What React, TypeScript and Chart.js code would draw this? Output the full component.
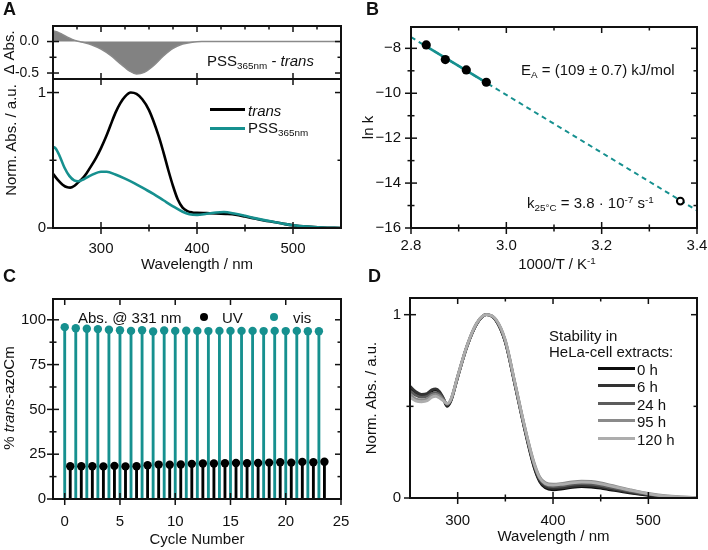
import React, { useEffect, useRef } from 'react';
import { Chart, registerables } from 'chart.js';

Chart.register(...registerables);

const FONT = "'Liberation Sans', Arial, Helvetica, sans-serif";
const TEAL = '#16908f';
const INK = '#111';

// ---------------- Panel A (UV/Vis spectra) ----------------
const A_TRANS_WL = [250, 255, 260, 265, 268, 272, 276, 280, 285, 290, 295, 300, 305, 310, 315, 320, 325, 331, 337, 343, 350, 360, 365, 370, 375, 380, 385, 390, 395, 400, 410, 420, 430, 440, 450, 460, 470, 480, 490, 500, 515, 530, 550];
const A_TRANS = [0.40, 0.355, 0.32, 0.30, 0.298, 0.31, 0.335, 0.36, 0.405, 0.46, 0.52, 0.59, 0.67, 0.76, 0.85, 0.92, 0.97, 1.0, 0.99, 0.95, 0.87, 0.68, 0.56, 0.43, 0.31, 0.21, 0.15, 0.125, 0.115, 0.112, 0.11, 0.108, 0.104, 0.098, 0.085, 0.07, 0.056, 0.044, 0.031, 0.02, 0.01, 0.004, 0.0];
const A_PSS_WL = [250, 253, 257, 262, 267, 272, 276, 282, 290, 300, 306, 315, 325, 335, 345, 355, 365, 375, 385, 392, 400, 410, 420, 428, 440, 450, 460, 470, 480, 490, 500, 515, 530, 550];
const A_PSS = [0.60, 0.585, 0.53, 0.445, 0.385, 0.352, 0.345, 0.36, 0.39, 0.415, 0.415, 0.395, 0.365, 0.33, 0.29, 0.25, 0.205, 0.16, 0.12, 0.102, 0.097, 0.105, 0.115, 0.118, 0.105, 0.09, 0.073, 0.058, 0.045, 0.032, 0.02, 0.01, 0.004, 0.0];
const A_DIFF_WL = [250, 255, 260, 265, 270, 276, 282, 290, 300, 310, 320, 330, 337, 345, 355, 365, 375, 385, 395, 405, 450, 550];
const A_DIFF = [0.17, 0.15, 0.11, 0.07, 0.035, 0.005, -0.015, -0.05, -0.12, -0.22, -0.35, -0.47, -0.515, -0.49, -0.38, -0.23, -0.11, -0.04, -0.01, 0, 0, 0];

const WL_LABELS = [300, 400, 500];
const WL_MINOR = [350, 450];
const A_TOP_WL_MINOR = [275, 325, 350, 375, 425, 450, 475, 525];
const A_TOP_Y_LABELS = [-0.5, 0];
const A_TOP_Y_MINOR = [-0.25];
const NORM_LABELS = [0, 1];
const NORM_MINOR = [0.5];

// ---------------- Panel B (Arrhenius) ----------------
const B_INV_T = [2.832, 2.872, 2.916, 2.958];
const B_LNK = [-7.85, -8.5, -8.96, -9.51];
const B_EXTRAP_INV_T = [3.365];
const B_EXTRAP_LNK = [-14.8];
const B_FIT_INV_T = [2.8, 3.4];
const B_FIT_LNK = [-7.5, -15.22];
const B_FIT_SOLID_INV_T = [2.832, 2.958];
const B_FIT_SOLID_LNK = [-7.91, -9.53];
const B_X_LABELS = [2.8, 3.0, 3.2, 3.4];
const B_X_MINOR = [2.9, 3.1, 3.3];
const B_Y_LABELS = [-16, -14, -12, -10, -8];
const B_Y_MINOR = [-15, -13, -11, -9];

// ---------------- Panel C (switching cycles) ----------------
const C_VIS_CYCLE = [0, 1, 2, 3, 4, 5, 6, 7, 8, 9, 10, 11, 12, 13, 14, 15, 16, 17, 18, 19, 20, 21, 22, 23];
const C_VIS = [95.9, 95.3, 95.0, 94.8, 94.4, 94.2, 93.8, 94.2, 93.5, 94.0, 93.8, 93.9, 93.8, 93.7, 93.8, 93.8, 93.8, 93.8, 93.7, 93.8, 93.7, 93.8, 93.6, 93.6];
const C_UV_CYCLE = [0.5, 1.5, 2.5, 3.5, 4.5, 5.5, 6.5, 7.5, 8.5, 9.5, 10.5, 11.5, 12.5, 13.5, 14.5, 15.5, 16.5, 17.5, 18.5, 19.5, 20.5, 21.5, 22.5, 23.5];
const C_UV = [18.3, 18.3, 18.3, 18.2, 18.5, 18.2, 18.3, 18.8, 19.2, 19.1, 19.3, 19.6, 19.8, 19.8, 20.0, 20.1, 20.0, 20.1, 20.3, 20.5, 20.3, 20.7, 20.5, 20.8];
const C_X_LABELS = [0, 5, 10, 15, 20, 25];
const C_Y_LABELS = [0, 25, 50, 75, 100];
const C_Y_MINOR = [12.5, 37.5, 62.5, 87.5];

// ---------------- Panel D (stability) ----------------
const D_WL = [250, 256, 262, 268, 273, 277, 281, 285, 289, 293, 300, 310, 320, 330, 340, 350, 360, 370, 380, 386, 392, 400, 410, 420, 430, 440, 450, 460, 480, 500, 520, 550];
const D_0H = [0.60, 0.575, 0.56, 0.565, 0.585, 0.59, 0.575, 0.54, 0.50, 0.53, 0.66, 0.83, 0.95, 1.0, 0.97, 0.85, 0.62, 0.38, 0.17, 0.09, 0.055, 0.045, 0.05, 0.058, 0.062, 0.06, 0.054, 0.045, 0.028, 0.015, 0.006, 0];
const D_6H = [0.61, 0.58, 0.565, 0.57, 0.59, 0.595, 0.58, 0.545, 0.505, 0.535, 0.66, 0.83, 0.95, 1.0, 0.97, 0.85, 0.62, 0.385, 0.175, 0.095, 0.062, 0.052, 0.056, 0.064, 0.068, 0.066, 0.06, 0.05, 0.032, 0.017, 0.007, 0];
const D_24H = [0.585, 0.56, 0.55, 0.555, 0.57, 0.575, 0.565, 0.54, 0.51, 0.535, 0.66, 0.83, 0.95, 1.0, 0.97, 0.855, 0.625, 0.39, 0.185, 0.105, 0.072, 0.062, 0.066, 0.074, 0.078, 0.076, 0.069, 0.058, 0.038, 0.02, 0.008, 0.001];
const D_95H = [0.565, 0.54, 0.535, 0.54, 0.56, 0.565, 0.555, 0.535, 0.515, 0.54, 0.665, 0.835, 0.955, 1.0, 0.975, 0.86, 0.63, 0.395, 0.195, 0.115, 0.083, 0.075, 0.08, 0.088, 0.092, 0.09, 0.082, 0.07, 0.046, 0.025, 0.011, 0.002];
const D_120H = [0.55, 0.53, 0.525, 0.53, 0.55, 0.555, 0.545, 0.53, 0.515, 0.54, 0.665, 0.835, 0.955, 1.0, 0.975, 0.86, 0.63, 0.395, 0.19, 0.11, 0.078, 0.07, 0.075, 0.083, 0.087, 0.085, 0.077, 0.066, 0.043, 0.023, 0.01, 0.002];
const D_LABELS = ['0 h', '6 h', '24 h', '95 h', '120 h'];
const D_SERIES = [D_0H, D_6H, D_24H, D_95H, D_120H];
const D_COLORS = ['#0d0d0d', '#333333', '#5c5c5c', '#8a8a8a', '#adadad'];

// ---------------- helpers ----------------
type Rect = { l: number; t: number; w: number; h: number };
type Plot = { l: number; t: number; r: number; b: number };

const pts = (xs: number[], ys: number[]) => xs.map((x, i) => ({ x, y: ys[i] }));

const frameTicks = {
  id: 'frameTicks',
  afterDatasetsDraw(chart: any, _a: any, opts: any) {
    const { ctx, chartArea: a, scales } = chart;
    const xs = scales.x;
    const ys = scales.y;
    ctx.save();
    ctx.strokeStyle = INK;
    const line = (x1: number, y1: number, x2: number, y2: number) => {
      ctx.lineWidth = 1.5;
      ctx.beginPath();
      ctx.moveTo(x1, y1);
      ctx.lineTo(x2, y2);
      ctx.stroke();
    };
    for (const side of ['bottom', 'top', 'left', 'right']) {
      const spec = opts[side];
      if (!spec) continue;
      const items: [number, number][] = [
        ...(spec.major || []).map((v: number) => [v, 6] as [number, number]),
        ...(spec.minor || []).map((v: number) => [v, 3.5] as [number, number]),
      ];
      const horiz = side === 'bottom' || side === 'top';
      const inward = side === 'bottom' || side === 'right' ? -1 : 1;
      const base = side === 'bottom' ? a.bottom : side === 'top' ? a.top : side === 'left' ? a.left : a.right;
      for (const [v, L] of items) {
        const out = spec.cross ? L : 0;
        if (horiz) {
          const px = xs.getPixelForValue(v);
          line(px, base - inward * out, px, base + inward * L);
        } else {
          const py = ys.getPixelForValue(v);
          line(base - inward * out, py, base + inward * L, py);
        }
      }
    }
    ctx.lineWidth = 2;
    ctx.strokeRect(a.left, a.top, a.right - a.left, a.bottom - a.top);
    ctx.restore();
  },
};

function layoutFor(c: Rect, p: Plot) {
  return {
    padding: { left: 0, top: p.t - c.t, right: c.l + c.w - p.r, bottom: 0 },
    yW: p.l - c.l,
    xH: c.t + c.h - p.b,
  };
}

function axis(o: {
  pos: 'x' | 'y';
  min: number;
  max: number;
  labels: number[];
  fmt: (v: number) => string;
  pad: number;
  size: number;
  show?: boolean;
  title?: string;
  titlePad?: number;
}) {
  const isX = o.pos === 'x';
  return {
    type: 'linear',
    position: isX ? 'bottom' : 'left',
    min: o.min,
    max: o.max,
    offset: false,
    afterFit: (s: any) => {
      if (isX) s.height = o.size;
      else s.width = o.size;
      s.paddingTop = 0;
      s.paddingBottom = 0;
      s.paddingLeft = 0;
      s.paddingRight = 0;
    },
    afterBuildTicks: (s: any) => {
      s.ticks = o.labels.map((v) => ({ value: v }));
    },
    grid: { display: false, drawTicks: false },
    border: { display: false },
    ticks: {
      display: o.show !== false,
      autoSkip: false,
      maxRotation: 0,
      minRotation: 0,
      padding: o.pad,
      color: INK,
      font: { family: FONT, size: 15 },
      callback: (v: any) => o.fmt(Number(v)),
    },
    title: o.title
      ? {
          display: true,
          text: o.title,
          color: INK,
          font: { family: FONT, size: 15, lineHeight: 1 },
          padding: isX ? { top: 0, bottom: o.titlePad } : { top: o.titlePad, bottom: 0 },
        }
      : { display: false },
  };
}

function baseOptions(lay: any, ticks: any) {
  return {
    animation: false,
    responsive: false,
    maintainAspectRatio: false,
    devicePixelRatio: 1,
    events: [],
    layout: { padding: lay.padding },
    plugins: { legend: { display: false }, tooltip: { enabled: false }, frameTicks: ticks },
  };
}

const fmtInt = (v: number) => String(v);
const fmtMinus = (v: number) => String(v).replace('-', '\u2212');
const fmt1 = (v: number) => v.toFixed(1);

// ---------------- rects ----------------
const A_TOP_C: Rect = { l: 0, t: 16, w: 354, h: 84 };
const A_TOP_P: Plot = { l: 53, t: 26, r: 341, b: 79 };
const A_BOT_C: Rect = { l: 0, t: 60, w: 354, h: 215 };
const A_BOT_P: Plot = { l: 53, t: 79, r: 341, b: 228 };
const B_C: Rect = { l: 354, t: 16, w: 354, h: 259 };
const B_P: Plot = { l: 411, t: 27, r: 697, b: 228 };
const C_C: Rect = { l: 0, t: 285, w: 354, h: 265 };
const C_P: Plot = { l: 53, t: 299, r: 341, b: 499 };
const D_C: Rect = { l: 354, t: 285, w: 354, h: 265 };
const D_P: Plot = { l: 410, t: 298, r: 697, b: 498 };

function makeATop() {
  const lay = layoutFor(A_TOP_C, A_TOP_P);
  const opts: any = baseOptions(lay, {
    top: { major: WL_LABELS, minor: A_TOP_WL_MINOR },
    bottom: { major: WL_LABELS, cross: true },
    left: { major: A_TOP_Y_LABELS, minor: A_TOP_Y_MINOR, cross: true },
    right: { major: A_TOP_Y_LABELS, minor: A_TOP_Y_MINOR },
  });
  const y: any = axis({ pos: 'y', min: -0.595, max: 0.247, labels: A_TOP_Y_LABELS, fmt: fmt1, pad: 14, size: lay.yW, title: 'Δ Abs.', titlePad: 2 });
  y.ticks.font = { family: FONT, size: 14 };
  opts.scales = {
    x: axis({ pos: 'x', min: 250, max: 550, labels: WL_LABELS, fmt: fmtInt, pad: 0, size: lay.xH, show: false }),
    y,
  };
  return {
    type: 'line',
    data: {
      datasets: [
        {
          data: pts(A_DIFF_WL, A_DIFF),
          borderColor: '#8a8a8a',
          backgroundColor: '#828282',
          borderWidth: 1.5,
          fill: 'origin',
          pointRadius: 0,
          tension: 0.4,
          cubicInterpolationMode: 'monotone',
        },
      ],
    },
    options: opts,
    plugins: [frameTicks],
  };
}

function makeABot() {
  const lay = layoutFor(A_BOT_C, A_BOT_P);
  const opts: any = baseOptions(lay, {
    bottom: { major: WL_LABELS, minor: WL_MINOR, cross: true },
    left: { major: NORM_LABELS, minor: NORM_MINOR, cross: true },
    right: { major: NORM_LABELS, minor: NORM_MINOR },
  });
  opts.scales = {
    x: axis({ pos: 'x', min: 250, max: 550, labels: WL_LABELS, fmt: fmtInt, pad: 12, size: lay.xH, title: 'Wavelength / nm', titlePad: 2.5 }),
    y: axis({ pos: 'y', min: 0, max: 1.1, labels: NORM_LABELS, fmt: fmtInt, pad: 7, size: lay.yW }),
  };
  const common = { pointRadius: 0, borderWidth: 2.6, tension: 0.4, cubicInterpolationMode: 'monotone', fill: false };
  return {
    type: 'line',
    data: {
      datasets: [
        { ...common, label: 'PSS365nm', data: pts(A_PSS_WL, A_PSS), borderColor: TEAL, order: 0 },
        { ...common, label: 'trans', data: pts(A_TRANS_WL, A_TRANS), borderColor: '#000', order: 1 },
      ],
    },
    options: opts,
    plugins: [frameTicks],
  };
}

function makeB() {
  const lay = layoutFor(B_C, B_P);
  const opts: any = baseOptions(lay, {
    bottom: { major: B_X_LABELS, minor: B_X_MINOR, cross: true },
    top: { major: B_X_LABELS, minor: B_X_MINOR },
    left: { major: B_Y_LABELS, minor: B_Y_MINOR, cross: true },
    right: { major: B_Y_LABELS, minor: B_Y_MINOR },
  });
  opts.scales = {
    x: axis({ pos: 'x', min: 2.8, max: 3.4, labels: B_X_LABELS, fmt: fmt1, pad: 9, size: lay.xH }),
    y: axis({ pos: 'y', min: -16, max: -7.05, labels: B_Y_LABELS, fmt: fmtMinus, pad: 10, size: lay.yW, title: 'ln k', titlePad: 7.5 }),
  };
  return {
    type: 'scatter',
    data: {
      datasets: [
        { data: pts(B_FIT_INV_T, B_FIT_LNK), showLine: true, borderColor: TEAL, borderWidth: 2, borderDash: [5, 4], pointRadius: 0, order: 3 },
        { data: pts(B_FIT_SOLID_INV_T, B_FIT_SOLID_LNK), showLine: true, borderColor: TEAL, borderWidth: 2.6, pointRadius: 0, order: 2 },
        { data: pts(B_INV_T, B_LNK), showLine: false, pointRadius: 4.6, pointBackgroundColor: '#000', pointBorderWidth: 0, order: 0 },
        { data: pts(B_EXTRAP_INV_T, B_EXTRAP_LNK), showLine: false, pointRadius: 3.4, pointBackgroundColor: '#fff', pointBorderColor: '#000', pointBorderWidth: 2, order: 0 },
      ],
    },
    options: opts,
    plugins: [frameTicks],
  };
}

function makeC() {
  const lay = layoutFor(C_C, C_P);
  const opts: any = baseOptions(lay, {
    bottom: { major: C_X_LABELS, cross: true },
    top: { major: C_X_LABELS },
    left: { major: C_Y_LABELS, minor: C_Y_MINOR, cross: true },
    right: { major: C_Y_LABELS, minor: C_Y_MINOR },
  });
  opts.scales = {
    x: axis({ pos: 'x', min: -1.06, max: 25, labels: C_X_LABELS, fmt: fmtInt, pad: 14, size: lay.xH, title: 'Cycle Number', titlePad: 2.5 }),
    y: axis({ pos: 'y', min: 0, max: 111.6, labels: C_Y_LABELS, fmt: fmtInt, pad: 7, size: lay.yW }),
  };
  const stem = { type: 'bar', barThickness: 2.2, grouped: false, borderWidth: 0, order: 1 };
  const head = { type: 'scatter', showLine: false, pointRadius: 4.2, pointBorderWidth: 0, order: 0 };
  return {
    type: 'scatter',
    data: {
      datasets: [
        { ...head, label: 'vis', data: pts(C_VIS_CYCLE, C_VIS), pointBackgroundColor: TEAL },
        { ...head, label: 'UV', data: pts(C_UV_CYCLE, C_UV), pointBackgroundColor: '#000' },
        { ...stem, data: pts(C_VIS_CYCLE, C_VIS), backgroundColor: TEAL },
        { ...stem, data: pts(C_UV_CYCLE, C_UV), backgroundColor: '#000' },
      ],
    },
    options: opts,
    plugins: [frameTicks],
  };
}

function makeD() {
  const lay = layoutFor(D_C, D_P);
  const opts: any = baseOptions(lay, {
    bottom: { major: WL_LABELS, minor: WL_MINOR, cross: true },
    top: { major: WL_LABELS, minor: WL_MINOR },
    left: { major: NORM_LABELS, minor: NORM_MINOR, cross: true },
    right: { major: NORM_LABELS, minor: NORM_MINOR },
  });
  opts.scales = {
    x: axis({ pos: 'x', min: 250, max: 551, labels: WL_LABELS, fmt: fmtInt, pad: 14, size: lay.xH, title: 'Wavelength / nm', titlePad: 5.5 }),
    y: axis({ pos: 'y', min: 0, max: 1.091, labels: NORM_LABELS, fmt: fmtInt, pad: 9, size: lay.yW, title: 'Norm. Abs. / a.u.', titlePad: 10.5 }),
  };
  return {
    type: 'line',
    data: {
      datasets: D_SERIES.map((s, i) => ({
        label: D_LABELS[i],
        data: pts(D_WL, s),
        borderColor: D_COLORS[i],
        borderWidth: 2.8,
        pointRadius: 0,
        tension: 0.4,
        cubicInterpolationMode: 'monotone',
        fill: false,
        order: D_SERIES.length - i,
      })),
    },
    options: opts,
    plugins: [frameTicks],
  };
}

function ChartCanvas({ rect, make }: { rect: Rect; make: () => any }) {
  const ref = useRef<HTMLCanvasElement>(null);
  useEffect(() => {
    const chart = new Chart(ref.current as HTMLCanvasElement, make());
    return () => chart.destroy();
  }, []);
  return (
    <canvas
      ref={ref}
      width={rect.w}
      height={rect.h}
      style={{ position: 'absolute', left: rect.l, top: rect.t, width: rect.w, height: rect.h, display: 'block' }}
    />
  );
}

const Sub = ({ children }: any) => (
  <span style={{ fontSize: '0.66em', position: 'relative', top: '0.32em', lineHeight: 0 }}>{children}</span>
);
const Sup = ({ children }: any) => (
  <span style={{ fontSize: '0.66em', position: 'relative', top: '-0.48em', lineHeight: 0 }}>{children}</span>
);

const Txt = ({ x, y, size = 15, bold, center, children }: any) => (
  <div
    style={{
      position: 'absolute',
      left: x,
      top: y - size / 2,
      fontSize: size,
      lineHeight: size + 'px',
      fontWeight: bold ? 'bold' : 'normal',
      whiteSpace: 'nowrap',
      color: INK,
      transform: center ? 'translateX(-50%)' : undefined,
    }}
  >
    {children}
  </div>
);

const VTxt = ({ cx, cy, size = 15, children }: any) => (
  <div
    style={{
      position: 'absolute',
      left: cx,
      top: cy,
      fontSize: size,
      lineHeight: size + 'px',
      whiteSpace: 'nowrap',
      color: INK,
      transform: 'translate(-50%, -50%) rotate(-90deg)',
    }}
  >
    {children}
  </div>
);

const Swatch = ({ x1, x2, y, color }: any) => (
  <div style={{ position: 'absolute', left: x1, top: y - 1.5, width: x2 - x1, height: 3, background: color }} />
);
const Dot = ({ x, y, color }: any) => (
  <div style={{ position: 'absolute', left: x - 4, top: y - 4, width: 8, height: 8, borderRadius: '50%', background: color }} />
);

export default function App() {
  return (
    <div
      style={{
        position: 'fixed',
        left: 0,
        top: 0,
        width: 708,
        height: 550,
        background: '#fff',
        overflow: 'hidden',
        fontFamily: FONT,
      }}
    >
      <ChartCanvas rect={A_TOP_C} make={makeATop} />
      <ChartCanvas rect={A_BOT_C} make={makeABot} />
      <ChartCanvas rect={B_C} make={makeB} />
      <ChartCanvas rect={C_C} make={makeC} />
      <ChartCanvas rect={D_C} make={makeD} />

      {/* panel letters */}
      <Txt x={3} y={9} size={18} bold>A</Txt>
      <Txt x={366} y={9} size={18} bold>B</Txt>
      <Txt x={3} y={276} size={18} bold>C</Txt>
      <Txt x={368} y={276} size={18} bold>D</Txt>

      {/* panel A */}
      <Txt x={207} y={60}>
        PSS<Sub>365nm</Sub> - <i>trans</i>
      </Txt>
      <Swatch x1={210} x2={245} y={109} color="#000" />
      <Txt x={248} y={110}><i>trans</i></Txt>
      <Swatch x1={210} x2={245} y={128} color={TEAL} />
      <Txt x={248} y={127}>
        PSS<Sub>365nm</Sub>
      </Txt>
      <VTxt cx={10} cy={140}>Norm. Abs. / a.u.</VTxt>

      {/* panel B */}
      <Txt x={521} y={69}>
        E<Sub>A</Sub> = (109 ± 0.7) kJ/mol
      </Txt>
      <Txt x={527} y={202}>
        k<Sub>25°C</Sub> = 3.8 · 10<Sup>-7</Sup> s<Sup>-1</Sup>
      </Txt>
      <Txt x={557} y={263} center>
        1000/T / K<Sup>-1</Sup>
      </Txt>

      {/* panel C */}
      <Txt x={78} y={317}>Abs. @ 331 nm</Txt>
      <Dot x={204} y={317} color="#000" />
      <Txt x={222} y={317}>UV</Txt>
      <Dot x={274} y={317} color={TEAL} />
      <Txt x={293} y={317}>vis</Txt>
      <VTxt cx={8} cy={398}>
        % <i>trans</i>-azoCm
      </VTxt>

      {/* panel D */}
      <Txt x={549} y={335}>Stability in</Txt>
      <Txt x={549} y={351}>HeLa-cell extracts:</Txt>
      {D_LABELS.map((lab, i) => (
        <React.Fragment key={lab}>
          <Swatch x1={598} x2={635} y={368 + i * 17.5} color={D_COLORS[i]} />
          <Txt x={637} y={369 + i * 17.5}>{lab}</Txt>
        </React.Fragment>
      ))}
    </div>
  );
}
